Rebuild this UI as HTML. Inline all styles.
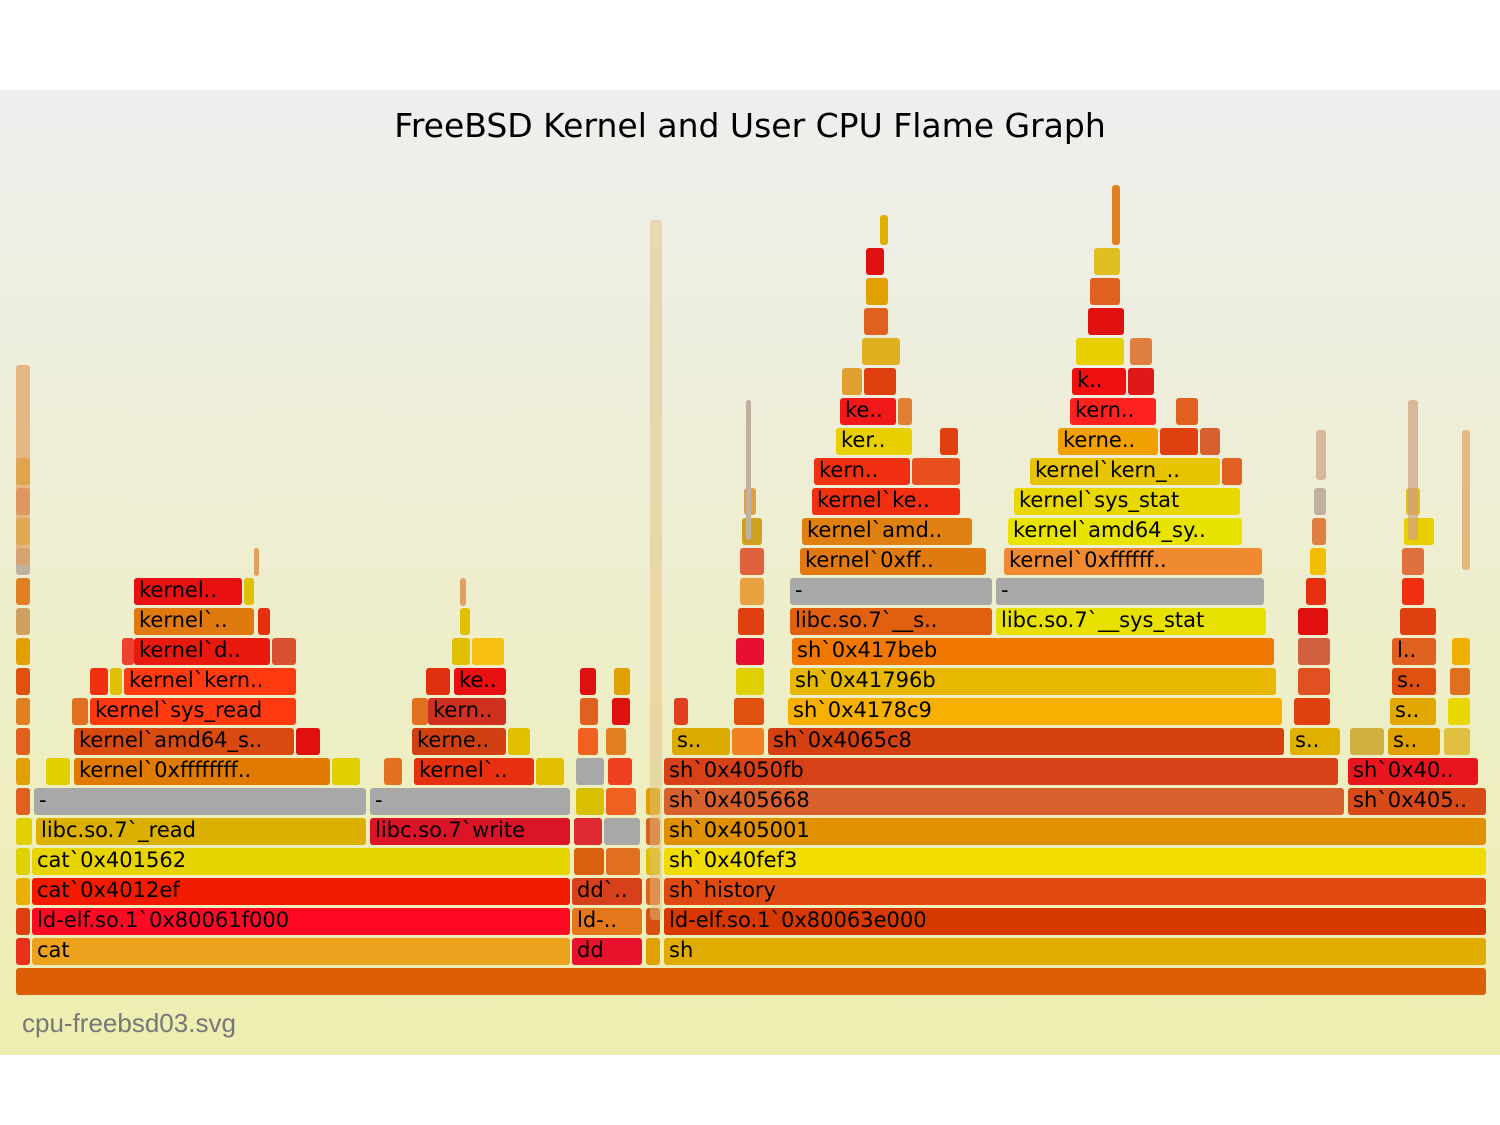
<!DOCTYPE html>
<html><head><meta charset="utf-8"><style>
body{margin:0;width:1500px;height:1125px;background:#fff;position:relative;overflow:hidden;font-family:"DejaVu Sans","Liberation Sans",sans-serif}
#bg{position:absolute;left:0;top:90px;width:1500px;height:965px;background:linear-gradient(#eeeeee,#eeeeb0)}
.f{position:absolute;height:27px;border-radius:3px;font-size:21px;line-height:25px;padding-left:5px;box-sizing:border-box;white-space:nowrap;overflow:hidden;color:#000}
h1{position:absolute;top:106px;left:0;width:1500px;text-align:center;margin:0;font-weight:normal;font-size:33px;font-family:"DejaVu Sans",sans-serif}
.fn{position:absolute;left:22px;top:1008px;font-size:26px;color:#777;font-family:"Liberation Sans",sans-serif}
</style></head><body>
<div id="bg"></div>
<h1>FreeBSD Kernel and User CPU Flame Graph</h1>
<div class="f" style="left:16px;top:968px;width:1470px;background:#dd5f05"></div>
<div class="f" style="left:16px;top:938px;width:14px;background:#e8301c"></div>
<div class="f" style="left:32px;top:938px;width:538px;background:#eca21c">cat</div>
<div class="f" style="left:572px;top:938px;width:70px;background:#e8122d">dd</div>
<div class="f" style="left:646px;top:938px;width:14px;background:#e0a000"></div>
<div class="f" style="left:664px;top:938px;width:822px;background:#e0ac00">sh</div>
<div class="f" style="left:16px;top:908px;width:14px;background:#e04010"></div>
<div class="f" style="left:32px;top:908px;width:538px;background:#ff0a24">ld-elf.so.1`0x80061f000</div>
<div class="f" style="left:572px;top:908px;width:70px;background:#e4761c">ld-..</div>
<div class="f" style="left:646px;top:908px;width:14px;background:#d85010"></div>
<div class="f" style="left:664px;top:908px;width:822px;background:#d63800">ld-elf.so.1`0x80063e000</div>
<div class="f" style="left:16px;top:878px;width:14px;background:#e8b000"></div>
<div class="f" style="left:32px;top:878px;width:538px;background:#f21b00">cat`0x4012ef</div>
<div class="f" style="left:572px;top:878px;width:70px;background:#d8401c">dd`..</div>
<div class="f" style="left:646px;top:878px;width:14px;background:#e06020"></div>
<div class="f" style="left:664px;top:878px;width:822px;background:#e04a10">sh`history</div>
<div class="f" style="left:16px;top:848px;width:14px;background:#e0d000"></div>
<div class="f" style="left:32px;top:848px;width:538px;background:#e8d400">cat`0x401562</div>
<div class="f" style="left:574px;top:848px;width:30px;background:#d8600e"></div>
<div class="f" style="left:606px;top:848px;width:34px;background:#e07020"></div>
<div class="f" style="left:646px;top:848px;width:14px;background:#e0c000"></div>
<div class="f" style="left:664px;top:848px;width:822px;background:#f0dc00">sh`0x40fef3</div>
<div class="f" style="left:16px;top:818px;width:16px;background:#e0d000"></div>
<div class="f" style="left:36px;top:818px;width:330px;background:#dcb000">libc.so.7`_read</div>
<div class="f" style="left:370px;top:818px;width:200px;background:#dc1428">libc.so.7`write</div>
<div class="f" style="left:574px;top:818px;width:28px;background:#dd2a30"></div>
<div class="f" style="left:604px;top:818px;width:36px;background:#a8a8a8"></div>
<div class="f" style="left:646px;top:818px;width:14px;background:#d86020"></div>
<div class="f" style="left:664px;top:818px;width:822px;background:#e09000">sh`0x405001</div>
<div class="f" style="left:16px;top:788px;width:14px;background:#e06020"></div>
<div class="f" style="left:34px;top:788px;width:332px;background:#a8a8a8">-</div>
<div class="f" style="left:370px;top:788px;width:200px;background:#a8a8a8">-</div>
<div class="f" style="left:576px;top:788px;width:28px;background:#d8c000"></div>
<div class="f" style="left:606px;top:788px;width:30px;background:#f06020"></div>
<div class="f" style="left:646px;top:788px;width:14px;background:#e0a000"></div>
<div class="f" style="left:664px;top:788px;width:680px;background:#d8602c">sh`0x405668</div>
<div class="f" style="left:1348px;top:788px;width:138px;background:#d84a18">sh`0x405..</div>
<div class="f" style="left:16px;top:758px;width:14px;background:#e0a000"></div>
<div class="f" style="left:46px;top:758px;width:24px;background:#e0d000"></div>
<div class="f" style="left:74px;top:758px;width:256px;background:#e07a00">kernel`0xffffffff..</div>
<div class="f" style="left:332px;top:758px;width:28px;background:#e0d000"></div>
<div class="f" style="left:384px;top:758px;width:18px;background:#e57020"></div>
<div class="f" style="left:414px;top:758px;width:120px;background:#e63010">kernel`..</div>
<div class="f" style="left:536px;top:758px;width:28px;background:#e0c000"></div>
<div class="f" style="left:576px;top:758px;width:28px;background:#a8a8a8"></div>
<div class="f" style="left:608px;top:758px;width:24px;background:#f04020"></div>
<div class="f" style="left:664px;top:758px;width:674px;background:#d84018">sh`0x4050fb</div>
<div class="f" style="left:1348px;top:758px;width:130px;background:#e8141e">sh`0x40..</div>
<div class="f" style="left:16px;top:728px;width:14px;background:#e06020"></div>
<div class="f" style="left:74px;top:728px;width:220px;background:#d84a10">kernel`amd64_s..</div>
<div class="f" style="left:296px;top:728px;width:24px;background:#e01010"></div>
<div class="f" style="left:412px;top:728px;width:94px;background:#d04010">kerne..</div>
<div class="f" style="left:508px;top:728px;width:22px;background:#e0c000"></div>
<div class="f" style="left:578px;top:728px;width:20px;background:#f06020"></div>
<div class="f" style="left:606px;top:728px;width:20px;background:#e08020"></div>
<div class="f" style="left:672px;top:728px;width:58px;background:#dcaa00">s..</div>
<div class="f" style="left:732px;top:728px;width:32px;background:#f08020"></div>
<div class="f" style="left:768px;top:728px;width:516px;background:#d44010">sh`0x4065c8</div>
<div class="f" style="left:1290px;top:728px;width:50px;background:#e0b000">s..</div>
<div class="f" style="left:1350px;top:728px;width:34px;background:#d0b040"></div>
<div class="f" style="left:1388px;top:728px;width:52px;background:#e0a000">s..</div>
<div class="f" style="left:1444px;top:728px;width:26px;background:#e0c040"></div>
<div class="f" style="left:16px;top:698px;width:14px;background:#e08020"></div>
<div class="f" style="left:72px;top:698px;width:16px;background:#e07020"></div>
<div class="f" style="left:90px;top:698px;width:206px;background:#ff3a10">kernel`sys_read</div>
<div class="f" style="left:412px;top:698px;width:16px;background:#e07020"></div>
<div class="f" style="left:428px;top:698px;width:78px;background:#d03020">kern..</div>
<div class="f" style="left:580px;top:698px;width:18px;background:#e06020"></div>
<div class="f" style="left:612px;top:698px;width:18px;background:#e01010"></div>
<div class="f" style="left:674px;top:698px;width:14px;background:#e04020"></div>
<div class="f" style="left:734px;top:698px;width:30px;background:#e05010"></div>
<div class="f" style="left:788px;top:698px;width:494px;background:#f8b000">sh`0x4178c9</div>
<div class="f" style="left:1294px;top:698px;width:36px;background:#e04010"></div>
<div class="f" style="left:1390px;top:698px;width:46px;background:#e0a800">s..</div>
<div class="f" style="left:1448px;top:698px;width:22px;background:#e8d800"></div>
<div class="f" style="left:16px;top:668px;width:14px;background:#e05010"></div>
<div class="f" style="left:90px;top:668px;width:18px;background:#f03010"></div>
<div class="f" style="left:110px;top:668px;width:12px;background:#e0c000"></div>
<div class="f" style="left:124px;top:668px;width:172px;background:#ff3a10">kernel`kern..</div>
<div class="f" style="left:426px;top:668px;width:24px;background:#e03010"></div>
<div class="f" style="left:454px;top:668px;width:52px;background:#e81010">ke..</div>
<div class="f" style="left:580px;top:668px;width:16px;background:#e01010"></div>
<div class="f" style="left:614px;top:668px;width:16px;background:#e0a000"></div>
<div class="f" style="left:736px;top:668px;width:28px;background:#e0d000"></div>
<div class="f" style="left:790px;top:668px;width:486px;background:#e8b800">sh`0x41796b</div>
<div class="f" style="left:1298px;top:668px;width:32px;background:#e05020"></div>
<div class="f" style="left:1392px;top:668px;width:44px;background:#e05010">s..</div>
<div class="f" style="left:1450px;top:668px;width:20px;background:#e07020"></div>
<div class="f" style="left:16px;top:638px;width:14px;background:#e0a000"></div>
<div class="f" style="left:122px;top:638px;width:12px;background:#f04030"></div>
<div class="f" style="left:134px;top:638px;width:136px;background:#e81a10">kernel`d..</div>
<div class="f" style="left:272px;top:638px;width:24px;background:#d85030"></div>
<div class="f" style="left:452px;top:638px;width:18px;background:#e0c000"></div>
<div class="f" style="left:472px;top:638px;width:32px;background:#f8c010"></div>
<div class="f" style="left:736px;top:638px;width:28px;background:#e81030"></div>
<div class="f" style="left:792px;top:638px;width:482px;background:#f07800">sh`0x417beb</div>
<div class="f" style="left:1298px;top:638px;width:32px;background:#d06040"></div>
<div class="f" style="left:1392px;top:638px;width:44px;background:#e06020">l..</div>
<div class="f" style="left:1452px;top:638px;width:18px;background:#f0b000"></div>
<div class="f" style="left:16px;top:608px;width:14px;background:#d0a060"></div>
<div class="f" style="left:134px;top:608px;width:120px;background:#e07a10">kernel`..</div>
<div class="f" style="left:258px;top:608px;width:12px;background:#e83010"></div>
<div class="f" style="left:460px;top:608px;width:10px;background:#e0c000"></div>
<div class="f" style="left:738px;top:608px;width:26px;background:#e04010"></div>
<div class="f" style="left:790px;top:608px;width:202px;background:#e06010">libc.so.7`__s..</div>
<div class="f" style="left:996px;top:608px;width:270px;background:#e8e000">libc.so.7`__sys_stat</div>
<div class="f" style="left:1298px;top:608px;width:30px;background:#e01010"></div>
<div class="f" style="left:1400px;top:608px;width:36px;background:#e04010"></div>
<div class="f" style="left:16px;top:578px;width:14px;background:#e08020"></div>
<div class="f" style="left:134px;top:578px;width:108px;background:#e81010">kernel..</div>
<div class="f" style="left:244px;top:578px;width:10px;background:#e0c000"></div>
<div class="f" style="left:740px;top:578px;width:24px;background:#e8a040"></div>
<div class="f" style="left:790px;top:578px;width:202px;background:#a8a8a8">-</div>
<div class="f" style="left:996px;top:578px;width:268px;background:#a8a8a8">-</div>
<div class="f" style="left:1306px;top:578px;width:20px;background:#e83010"></div>
<div class="f" style="left:1402px;top:578px;width:22px;background:#f03010"></div>
<div class="f" style="left:16px;top:548px;width:14px;background:#c0b0a0"></div>
<div class="f" style="left:740px;top:548px;width:24px;background:#e06040"></div>
<div class="f" style="left:800px;top:548px;width:186px;background:#e07a10">kernel`0xff..</div>
<div class="f" style="left:1004px;top:548px;width:258px;background:#f08a30">kernel`0xffffff..</div>
<div class="f" style="left:1310px;top:548px;width:16px;background:#f0c000"></div>
<div class="f" style="left:1402px;top:548px;width:22px;background:#e07040"></div>
<div class="f" style="left:16px;top:518px;width:14px;background:#e0c040"></div>
<div class="f" style="left:742px;top:518px;width:20px;background:#d0a020"></div>
<div class="f" style="left:802px;top:518px;width:170px;background:#e08010">kernel`amd..</div>
<div class="f" style="left:1008px;top:518px;width:234px;background:#e8e400">kernel`amd64_sy..</div>
<div class="f" style="left:1312px;top:518px;width:14px;background:#e08040"></div>
<div class="f" style="left:1404px;top:518px;width:30px;background:#e8d000"></div>
<div class="f" style="left:16px;top:488px;width:14px;background:#e08060"></div>
<div class="f" style="left:744px;top:488px;width:12px;background:#e0a040"></div>
<div class="f" style="left:812px;top:488px;width:148px;background:#f03010">kernel`ke..</div>
<div class="f" style="left:1014px;top:488px;width:226px;background:#e8d800">kernel`sys_stat</div>
<div class="f" style="left:1314px;top:488px;width:12px;background:#c0b0a0"></div>
<div class="f" style="left:1406px;top:488px;width:14px;background:#e0c020"></div>
<div class="f" style="left:16px;top:458px;width:14px;background:#e0b020"></div>
<div class="f" style="left:814px;top:458px;width:96px;background:#f03010">kern..</div>
<div class="f" style="left:912px;top:458px;width:48px;background:#e85020"></div>
<div class="f" style="left:1030px;top:458px;width:190px;background:#e8c400">kernel`kern_..</div>
<div class="f" style="left:1222px;top:458px;width:20px;background:#e06020"></div>
<div class="f" style="left:836px;top:428px;width:76px;background:#e8d000">ker..</div>
<div class="f" style="left:940px;top:428px;width:18px;background:#e04010"></div>
<div class="f" style="left:1058px;top:428px;width:100px;background:#f0a000">kerne..</div>
<div class="f" style="left:1160px;top:428px;width:38px;background:#e04010"></div>
<div class="f" style="left:1200px;top:428px;width:20px;background:#d86030"></div>
<div class="f" style="left:840px;top:398px;width:56px;background:#f01818">ke..</div>
<div class="f" style="left:898px;top:398px;width:14px;background:#e08030"></div>
<div class="f" style="left:1070px;top:398px;width:86px;background:#ff2020">kern..</div>
<div class="f" style="left:1176px;top:398px;width:22px;background:#e06020"></div>
<div class="f" style="left:842px;top:368px;width:20px;background:#e0a030"></div>
<div class="f" style="left:864px;top:368px;width:32px;background:#e04010"></div>
<div class="f" style="left:1072px;top:368px;width:54px;background:#f01010">k..</div>
<div class="f" style="left:1128px;top:368px;width:26px;background:#e01818"></div>
<div class="f" style="left:862px;top:338px;width:38px;background:#e0b020"></div>
<div class="f" style="left:1076px;top:338px;width:48px;background:#e8d000"></div>
<div class="f" style="left:1130px;top:338px;width:22px;background:#e08040"></div>
<div class="f" style="left:864px;top:308px;width:24px;background:#e06020"></div>
<div class="f" style="left:1088px;top:308px;width:36px;background:#e01010"></div>
<div class="f" style="left:866px;top:278px;width:22px;background:#e0a000"></div>
<div class="f" style="left:1090px;top:278px;width:30px;background:#e06020"></div>
<div class="f" style="left:866px;top:248px;width:18px;background:#e01010"></div>
<div class="f" style="left:1094px;top:248px;width:26px;background:#e0c020"></div>
<div class="f" style="left:880px;top:215px;width:8px;background:#e0b000;height:30px"></div>
<div class="f" style="left:1112px;top:185px;width:8px;background:#e08020;height:60px"></div>
<div class="f" style="left:746px;top:400px;width:4px;background:#c0b0a0;height:140px"></div>
<div class="f" style="left:650px;top:220px;width:12px;background:#e0c080;height:700px;opacity:.5"></div>
<div class="f" style="left:16px;top:365px;width:14px;background:#e0a060;height:200px;opacity:.7"></div>
<div class="f" style="left:1408px;top:400px;width:10px;background:#d0a080;height:140px;opacity:.7"></div>
<div class="f" style="left:1316px;top:430px;width:10px;background:#d0a080;height:50px;opacity:.7"></div>
<div class="f" style="left:1462px;top:430px;width:8px;background:#e0a060;height:140px;opacity:.7"></div>
<div class="f" style="left:254px;top:548px;width:4px;background:#e0a060;height:28px"></div>
<div class="f" style="left:460px;top:578px;width:6px;background:#e0a060;height:28px"></div>
<div class="fn">cpu-freebsd03.svg</div>
</body></html>
